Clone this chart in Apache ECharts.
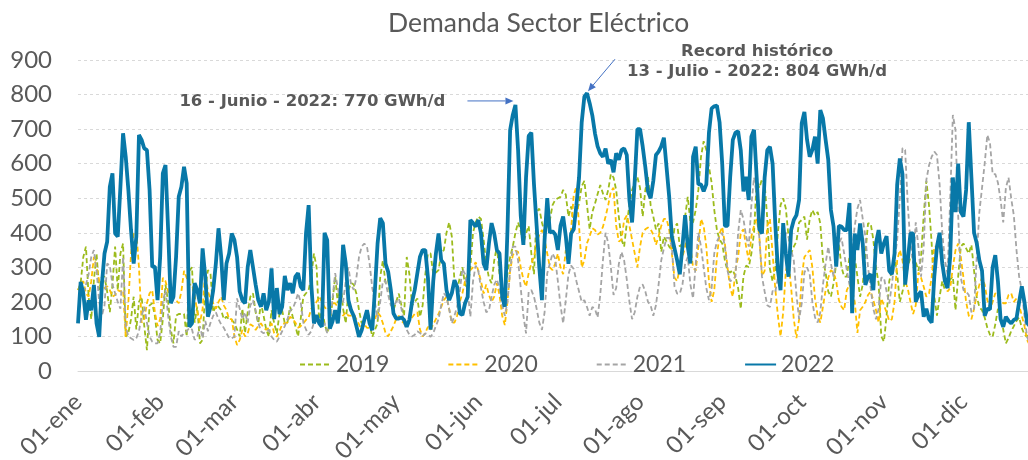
<!DOCTYPE html>
<html><head><meta charset="utf-8">
<script src="https://cdn.jsdelivr.net/npm/echarts@6.0.0/dist/echarts.min.js"></script>
<style>html,body{margin:0;padding:0;background:#fff}#c{width:1028px;height:460px}</style>
</head><body><div id="c"></div>
<script>
const monthNames = ['ene','feb','mar','abr','may','jun','jul','ago','sep','oct','nov','dic'];
const monthDays = [31,28,31,30,31,30,31,31,30,31,30,31];
const seriesNames = ['2019','2020','2021','2022'];

const v2019 = [234,254,330,360,215,150,263,340,234,273,
273,230,170,250,360,234,340,369,99,110,
150,215,120,200,215,130,60,190,196,160,
90,80,150,250,200,120,80,160,165,165,
165,100,290,300,140,186,80,90,240,292,
280,170,190,186,176,150,157,150,148,138,
120,100,180,110,170,215,225,170,138,196,
160,120,99,176,138,109,165,176,138,140,
186,157,130,100,150,215,225,234,273,340,
300,138,186,138,110,140,200,273,196,254,
180,138,234,255,250,224,176,138,150,157,
138,99,119,138,273,320,254,263,200,176,
200,224,190,160,330,280,190,200,210,157,
190,280,340,340,280,285,292,340,350,400,
430,390,260,235,270,300,250,240,300,400,
430,447,440,380,311,270,254,320,360,280,
230,215,280,330,360,400,430,405,370,398,
420,340,280,460,470,430,400,420,437,480,
495,500,504,524,510,447,476,430,460,485,
535,550,480,410,460,484,512,538,514,495,
524,570,560,524,447,380,360,427,480,524,
545,562,530,447,524,562,480,447,410,427,
345,389,375,360,350,415,427,360,369,447,
504,430,430,466,524,620,665,640,591,545,
466,408,380,369,320,290,285,292,273,240,
180,273,305,300,340,400,553,530,555,545,
440,295,260,292,400,480,500,470,390,340,
360,375,430,437,447,380,440,466,450,460,
427,320,285,230,215,254,311,369,300,273,
273,330,345,330,273,215,250,340,427,427,
380,300,254,100,85,160,260,290,330,280,
200,230,260,300,331,331,315,290,330,450,
550,480,370,215,160,215,260,235,250,265,
273,176,273,360,369,355,340,365,290,215,
185,176,155,125,105,99,135,180,170,120,
80,95,115,130,145,155,125,105,99,110,
130,150,140,120,100];

const v2020 = [234,250,260,225,215,260,330,300,260,234,
240,245,234,215,220,234,230,234,99,200,
340,398,405,300,140,150,196,225,234,170,
130,150,270,260,230,220,210,205,196,230,
290,270,250,250,220,170,140,180,292,230,
210,196,180,200,215,190,176,150,150,100,
75,90,119,100,109,135,130,119,130,138,
125,119,125,138,110,99,115,135,138,140,
157,150,140,125,130,138,148,155,180,192,
200,215,200,185,176,185,196,196,185,170,
160,170,160,160,163,150,135,119,135,125,
125,138,150,170,160,138,110,100,115,130,
150,160,145,138,130,145,155,165,170,120,
100,110,128,120,135,150,165,185,205,215,
180,140,140,160,200,225,260,280,292,300,
315,290,260,224,250,220,200,215,254,220,
160,133,200,290,335,348,345,300,265,244,
283,311,331,370,395,408,380,340,300,292,
311,340,300,280,350,311,410,510,533,420,
300,320,370,390,413,408,395,400,417,447,
480,520,530,420,375,380,437,450,420,380,
340,300,360,400,410,415,410,395,365,390,
420,440,440,410,340,270,260,300,330,360,
395,360,300,290,360,440,420,360,260,200,
234,330,398,417,369,300,240,215,292,330,
400,410,360,320,390,420,440,390,275,290,
420,440,340,240,160,100,170,290,320,240,
150,95,150,273,330,340,350,300,210,160,
140,186,234,270,292,285,260,205,186,176,
234,250,234,200,110,176,186,200,220,230,
205,176,140,210,190,170,145,150,200,320,
350,320,260,238,200,165,190,285,270,244,
215,224,270,360,360,355,315,275,230,240,
300,350,369,330,270,200,160,150,180,220,
250,270,250,205,180,200,225,220,205,196,
196,220,225,200,210,190,160,130,90,75,
70,80,95,110,120];

const v2021 = [157,254,220,250,280,330,350,290,200,160,
190,311,305,250,225,200,180,330,130,100,
95,90,95,115,160,186,140,100,85,80,
80,110,200,234,160,100,70,70,115,100,
110,115,125,120,90,100,130,95,145,115,
140,160,170,150,135,125,110,95,95,100,
210,180,150,170,140,190,205,175,140,115,
109,115,119,100,90,85,99,115,130,150,
175,180,200,225,200,140,120,105,115,140,
145,138,138,138,110,130,210,283,240,200,
200,260,300,250,235,270,330,360,369,360,
310,240,200,150,200,260,260,220,190,186,
200,210,180,138,119,105,100,105,115,110,
100,109,105,99,110,130,150,190,225,215,
180,138,160,186,230,295,280,230,157,260,
305,290,240,200,170,175,215,250,265,240,
190,160,200,290,360,360,320,240,160,109,
230,234,215,180,140,119,170,283,311,340,
325,260,190,138,205,280,305,295,260,230,
200,205,185,160,185,180,155,220,320,400,
370,300,220,240,310,345,320,265,200,150,
170,215,245,250,230,200,190,160,190,250,
320,355,385,385,360,245,224,224,250,310,
330,250,210,310,400,360,300,240,205,240,
340,375,390,400,360,290,260,265,273,400,
466,440,390,360,480,560,510,385,273,230,
190,185,232,228,270,305,340,400,390,350,
320,220,150,196,285,300,280,200,155,140,
170,250,311,360,311,273,320,370,385,340,
292,250,350,420,470,495,440,390,300,240,
180,150,180,270,270,230,195,250,320,380,
500,645,640,480,370,311,430,360,273,360,
553,595,620,635,625,540,400,320,280,500,
741,697,450,270,234,230,220,170,180,330,
460,530,600,683,660,570,570,545,495,430,
530,560,500,450,350,273,234,160,99,80,
70,90,110,100,90];

const v2022 = [138,258,225,148,205,176,249,138,99,250,
340,374,533,572,398,389,533,688,620,524,
408,311,389,683,669,644,639,524,302,302,
205,331,572,596,408,196,215,331,504,533,
591,543,128,138,254,234,196,355,273,157,
186,234,311,413,331,205,311,340,398,379,
330,230,205,196,300,350,300,250,205,186,
225,176,201,297,150,240,165,186,275,234,
254,225,273,283,244,234,398,480,250,138,
162,138,128,400,379,123,143,176,138,215,
365,311,205,176,160,130,99,118,148,176,
138,118,234,369,442,428,311,287,234,167,
152,152,155,148,128,148,200,234,283,331,
350,350,270,120,260,340,398,321,311,234,
205,225,263,244,167,162,196,215,437,428,
418,437,398,311,292,369,428,398,350,340,
215,186,408,697,741,770,640,450,365,560,
680,690,540,420,300,205,380,500,400,405,
395,350,420,447,390,310,398,410,480,560,
720,794,804,775,740,688,650,630,620,644,
600,611,575,630,611,639,644,625,495,430,
550,700,700,650,590,520,500,550,625,635,
650,675,590,504,389,355,320,280,360,451,
360,311,620,649,540,540,520,540,690,760,
766,768,720,600,420,420,560,669,690,694,
639,520,562,495,678,698,560,410,398,560,
639,649,600,428,292,234,428,340,273,408,
437,451,495,717,750,669,620,640,678,600,
755,731,669,611,466,418,302,420,418,408,
408,486,167,398,350,427,369,249,273,280,
234,369,408,340,370,390,290,280,340,540,
615,570,250,320,398,398,200,220,230,157,
180,150,140,273,360,400,311,260,240,331,
560,460,600,460,447,524,720,560,400,370,
320,290,160,180,178,300,335,260,150,128,
157,145,138,148,152,200,245,200,140,130,
150,175,190,170,160];

const yTicks = {min: 0, max: 900, step: 100};

const cats = [];
monthNames.forEach((m, i) => {
  for (let d = 1; d <= monthDays[i]; d++) cats.push(String(d).padStart(2, '0') + '-' + m);
});

const chart = echarts.init(document.getElementById('c'), null, {renderer: 'canvas'});
const txt = '#595959';
const font = 'Lato';

function dashed(name, data, color) {
  return {name, type: 'line', data, symbol: 'none', showSymbol: false,
    lineStyle: {color, width: 1.8, type: [5, 3]}, itemStyle: {color}, z: 2};
}

chart.setOption({
  animation: false,
  backgroundColor: '#ffffff',
  title: {text: 'Demanda Sector Eléctrico', left: 383, top: 5,
    textStyle: {fontFamily: font, fontSize: 26.5, fontWeight: 'normal', color: txt}},
  legend: {data: seriesNames, left: 294, top: 348, itemWidth: 31, itemHeight: 14, itemGap: 58,
    itemStyle: {color: 'transparent', borderWidth: 0, opacity: 0},
    textStyle: {fontFamily: font, fontSize: 23, color: txt}},
  grid: {left: 78, top: 60, width: 965, height: 311, outerBoundsMode: 'none', containLabel: false},
  xAxis: {type: 'category', data: cats, boundaryGap: false,
    axisLine: {lineStyle: {color: '#D9D9D9', width: 1}}, axisTick: {show: false},
    axisLabel: {interval: (i, v) => v.startsWith('01-'), rotate: 45, fontFamily: font, fontSize: 24, color: txt, margin: 27},
    splitLine: {show: false}},
  yAxis: {type: 'value', min: yTicks.min, max: yTicks.max, interval: yTicks.step,
    axisLine: {show: false}, axisTick: {show: false},
    axisLabel: {fontFamily: font, fontSize: 24, color: txt, margin: 26},
    splitLine: {lineStyle: {color: '#D9D9D9', type: [3, 3], width: 1}}},
  series: [
    dashed('2019', v2019, '#9CBB1C'),
    dashed('2020', v2020, '#FFC000'),
    dashed('2021', v2021, '#A5A5A5'),
    {name: '2022', type: 'line', data: v2022, symbol: 'none', showSymbol: false,
      lineStyle: {color: '#0878A8', width: 3.8}, itemStyle: {color: '#0878A8'}, z: 3}
  ]
});

// annotations anchored to data points
let junIdx = cats.findIndex(c => c.endsWith('-jun'));
for (let i = 0; i < cats.length; i++) if (cats[i].endsWith('-jun') && v2022[i] > v2022[junIdx]) junIdx = i;
const recIdx = v2022.indexOf(Math.max(...v2022));
const p1 = chart.convertToPixel({gridIndex: 0}, [cats[junIdx], v2022[junIdx]]);
const p2 = chart.convertToPixel({gridIndex: 0}, [cats[recIdx], v2022[recIdx]]);
const arrowColor = '#4472C4';
function arrow(x1, y1, x2, y2) {
  const a = Math.atan2(y2 - y1, x2 - x1), L = 8, W = 3.5;
  const bx = x2 - L * Math.cos(a), by = y2 - L * Math.sin(a);
  const nx = -Math.sin(a), ny = Math.cos(a);
  return [
    {type: 'line', shape: {x1, y1, x2: bx, y2: by}, style: {stroke: arrowColor, lineWidth: 1}, z: 10},
    {type: 'polygon', shape: {points: [[x2, y2], [bx + nx * W, by + ny * W], [bx - nx * W, by - ny * W]]}, style: {fill: arrowColor}, z: 10}
  ];
}
const annFont = {fontFamily: 'DejaVu Sans', fontWeight: 'bold', fontSize: 16.5, fill: txt};
chart.setOption({graphic: [
  {type: 'text', x: p1[0] - 70, y: p1[1] - 3, z: 10,
    style: Object.assign({text: '16 - Junio - 2022: ' + v2022[junIdx] + ' GWh/d', align: 'right', verticalAlign: 'middle'}, annFont)},
  ...arrow(p1[0] - 48, p1[1] - 4, p1[0] - 2, p1[1] - 4),
  {type: 'text', x: p2[0] + 170, y: p2[1] - 41, z: 10,
    style: Object.assign({text: 'Record histórico', align: 'center', verticalAlign: 'middle'}, annFont)},
  {type: 'text', x: p2[0] + 170, y: p2[1] - 21, z: 10,
    style: Object.assign({text: '13 - Julio - 2022: ' + v2022[recIdx] + ' GWh/d', align: 'center', verticalAlign: 'middle'}, annFont)},
  ...arrow(p2[0] + 28, p2[1] - 34, p2[0] + 1, p2[1] - 2)
]});
</script>
</body></html>
